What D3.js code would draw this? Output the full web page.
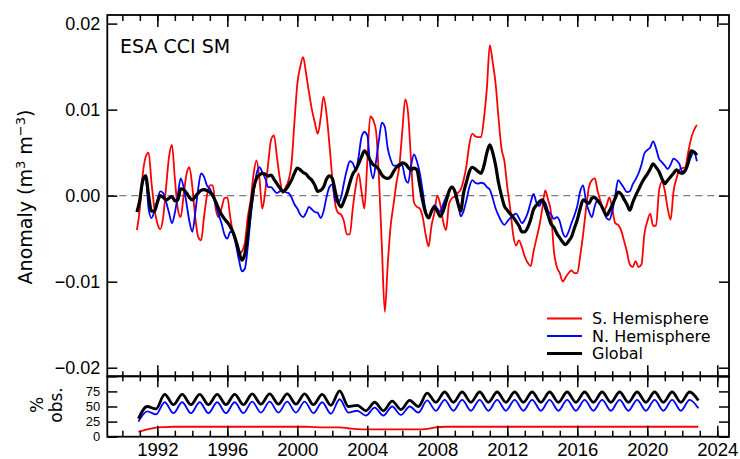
<!DOCTYPE html>
<html><head><meta charset="utf-8">
<script src="https://cdn.jsdelivr.net/npm/d3@7"></script>
<style>body{margin:0;background:#fff;} svg{display:block;font-family:"DejaVu Sans",sans-serif;}</style>
</head><body><svg id="c" width="740" height="459"></svg>
<script>
// ---------- DATA ----------
// Anomalies, 2-monthly samples starting late 1990, in units of 1e-3 m3 m-3
const anomStart = 1990 + 5/6, anomStep = 1/6, anomUnit = 1e-3;
const southHem = [ -4.0,
 -1.5, 2.5, 4.5, 5.0, 1.5, -1.5,
 -3.2, -3.9, -2.5, 1.0, 4.5, 5.9,
 2.0, -1.5, -2.5, 0.0, 2.5, 3.3,
 1.0, -2.5, -4.8, -5.2, -2.5, 0.0,
 1.2, 1.2, -1.5, -2.5, -1.5, -0.3,
 -0.2, -2.5, -4.5, -5.5, -6.8, -6.5,
 -5.5, -2.5, -0.5, 2.5, 4.1, 2.0,
 -1.5, 0.5, 3.7, 6.5, 7.0, 4.5,
 2.0, 0.3, 1.0, 1.8, 3.7, 8.5,
 13.0, 15.0, 16.1, 14.2, 12.0, 10.0,
 8.5, 7.2, 9.0, 11.5, 9.5, 6.0,
 2.0, -1.0, -2.0, -2.2, -3.0, -4.5,
 -4.5, -1.5, 1.0, 2.6, 0.5, -1.5,
 4.0, 9.2, 8.8, 7.5, 2.0, -6.0,
 -13.5, -8.0, -3.5, -1.0, 1.5, 3.5,
 7.5, 11.2, 9.5, 4.0, -0.8, -1.3,
 -1.5, -2.5, -4.5, -5.9, -3.5, -2.0,
 0.0, -1.0, -3.0, -4.0, -1.0, -0.3,
 -0.1, 0.3, 0.7, 1.8, 3.5, 6.0,
 7.2, 6.9, 6.8, 6.8, 9.0, 12.5,
 17.5, 15.5, 13.0, 9.0, 5.5, 4.0,
 1.0, -1.5, -4.5, -5.8, -5.2, -6.0,
 -7.1, -7.8, -8.2, -6.5, -5.0, -3.5,
 -1.5, 0.6, -0.5, -2.0, -6.5, -8.3,
 -9.0, -10.0, -9.5, -9.0, -8.7, -9.0,
 -9.0, -7.0, -4.5, -1.5, 1.0, 1.8,
 2.0, 0.5, -0.7, -1.8, -1.2, -0.2,
 -1.5, -3.2, -3.4, -4.0, -5.2, -6.5,
 -8.0, -8.3, -7.6, -8.3, -8.0, -4.5,
 -3.0, -2.1, -3.5, -3.5, 0.5, 1.6,
 0.6, -1.5, -2.8, 0.5, 2.0, 3.0,
 3.2, 3.3, 5.0, 6.6, 7.6, 8.2
];
const northHem = [ -1.9,
 -0.5, 1.5, 2.2, -1.5, -2.6, -1.8,
 -0.5, 0.5, 0.3, -0.7, -2.0, -3.2,
 -2.0, 0.0, 2.0, 1.0, -0.9, -3.0,
 -4.2, -2.0, 0.8, 2.6, 2.2, 1.2,
 0.8, 0.0, -1.0, -2.2, -3.2, -4.5,
 -5.0, -4.2, -4.3, -5.8, -7.5, -8.8,
 -8.5, -6.0, -2.5, 0.3, 2.5, 3.3,
 2.7, 2.0, 1.0, 1.0, 0.6, 0.3,
 0.5, 0.6, 0.4, 0.3, -0.2, -1.0,
 -1.5, -2.2, -2.5, -2.0, -1.3, -1.6,
 -1.9, -2.0, -2.6, -1.8, -0.2, 1.0,
 1.3, -0.5, -0.8, -0.2, 1.5, 3.0,
 4.0, 3.8, 3.0, 4.5, 6.8, 7.4,
 7.0, 3.5, 2.0, 4.0, 6.5, 8.5,
 8.0, 5.5, 4.2, 3.5, 3.5, 3.7,
 3.5, 2.0, 1.5, 3.5, 4.8, 4.0,
 2.6, 0.5, -1.8, -2.5, -2.0, -1.1,
 -1.5, -1.9, -1.0, -0.2, 0.5, 1.0,
 0.6, -0.5, -2.4, -1.8, -0.5, 1.0,
 1.8, 1.5, 1.4, 1.5, 1.4, 1.0,
 0.7, -0.3, -1.5, -2.3, -3.0, -3.4,
 -3.0, -2.6, -2.3, -2.1, -2.6, -3.2,
 -2.8, -2.0, -0.8, 0.2, -0.8, -1.2,
 -0.6, -0.8, -1.8, -2.2, -2.7, -2.5,
 -3.0, -4.3, -4.8, -4.2, -3.2, -2.3,
 -1.2, 0.5, 1.2, -0.7, -1.8, -2.5,
 -1.2, -0.5, -1.0, -1.7, -2.6, -2.8,
 -1.8, 0.0, 1.8, 1.4, 0.9, 0.4,
 0.5, 1.3, 1.9, 2.6, 3.6, 4.9,
 5.3, 5.6, 6.3, 5.5, 4.3, 3.9,
 3.5, 3.1, 3.6, 4.3, 4.1, 3.7,
 2.8, 3.0, 3.7, 4.5, 5.1, 4.0
];
const globalAnom = [ -1.9,
 -0.5, 1.8, 2.3, 0.0, -1.8, -1.8,
 -0.8, 0.0, -0.2, -0.5, -0.3, -0.1,
 -0.6, -0.5, 0.8, 0.7, 0.3, -0.2,
 -0.5, -0.1, 0.3, 0.6, 0.7, 0.6,
 0.4, 0.0, -0.7, -1.5, -2.2, -2.7,
 -3.1, -3.6, -4.3, -5.3, -6.5, -7.5,
 -6.8, -4.5, -1.5, 0.8, 2.0, 2.4,
 2.6, 2.5, 2.3, 2.4, 1.9, 1.4,
 0.9, 0.5, 0.7, 1.2, 1.8, 2.6,
 3.2, 3.0, 2.7, 2.5, 2.1, 1.8,
 1.2, 0.5, 0.6, 1.0, 1.9, 2.3,
 2.0, 0.5, -0.8, -1.3, -0.6, 0.3,
 1.5, 2.5, 3.0, 3.7, 4.5, 5.2,
 4.8, 4.1, 3.6, 3.4, 3.0, 2.4,
 2.1, 2.0, 2.2, 2.8, 3.3, 3.5,
 3.8, 3.7, 3.3, 3.0, 3.2, 3.0,
 1.2, -0.6, -2.0, -2.6, -1.8, -1.3,
 -1.8, -2.4, -1.8, -0.7, 0.5, 1.0,
 0.5, -0.8, -1.8, 0.3, 1.6, 2.8,
 3.3, 3.1, 2.8, 2.6, 3.5, 5.0,
 5.9, 5.0, 3.5, 1.5, 0.0, -1.2,
 -1.7, -2.1, -2.5, -3.0, -3.5, -4.2,
 -4.2, -3.7, -2.8, -1.6, -1.1, -0.7,
 -0.5, -1.3, -2.3, -3.3, -3.7, -4.4,
 -4.9, -5.4, -5.7, -5.3, -4.8, -3.8,
 -2.8, -1.5, -0.5, -0.7, -0.9, -0.3,
 -0.2, -0.6, -1.0, -1.7, -2.3, -1.8,
 -1.1, -0.3, 0.4, 0.2, -0.4, -1.0,
 -1.7, -0.8, 0.0, 0.7, 1.4, 2.0,
 2.5, 3.1, 3.7, 3.3, 2.8, 2.0,
 1.4, 1.8, 2.2, 2.6, 3.0, 2.7,
 2.6, 2.9, 3.8, 5.2, 5.1, 4.7
];
// % observations: half-yearly extremes starting 1990.92
const pctStart = 1990.92, pctStep = 0.5;
const southPct = [8,12,15,16,16.5,16.5,16.5,16.5,16.5,16.5,16.5,16.5,16.5,16.5,16.5,16.5,16.5,16.5,16.5,16.5,16,15.5,15.5,15.5,14,12.5,12,12,12,12,12,12,12,13,15.5,16.5,16.5,16.5,16.5,16.5,16.5,16.5,16.5,16.5,16.5,16.5,16.5,16.5,16.5,16.5,16.5,16.5,16.5,16.5,16.5,16.5,16.5,16.5,16.5,16.5,16.5,16.5,16.5,16.5,16.5];
const northPct = [25,42,37,57,39,57,39,57,39,57,39,57,39,58,40,58,40,58,40,58,39,57,38,62,40,43,35,48,35,50,36,50,40,60,43,61,43,61,43,61,43,61,43,61,43,61,43,61,43,61,43,61,43,61,43,61,43,61,43,61,43,61,43,61,47];
const globalPct = [30,50,46,70,53,70,53,70,53,70,53,70,53,71,54,71,54,71,54,71,53,70,52,76,50,52,43,57,43,59,45,60,50,72,57,74,57,74,57,74,57,74,57,74,57,74,57,74,57,74,57,74,57,74,57,74,57,74,57,74,57,74,57,74,60];

const anomTicks = [-0.02, -0.01, 0, 0.01, 0.02];
const pctTicks = [0, 25, 50, 75];
const yearTicks = [1992, 1996, 2000, 2004, 2008, 2012, 2016, 2020, 2024];
const seriesNames = ["S. Hemisphere", "N. Hemisphere", "Global"];
const seriesColors = ["#ff0000", "#0000ff", "#000000"];
const seriesWidths = [1.8, 1.8, 3.2];

// ---------- LAYOUT ----------
const L = 107.3, R = 729, T = 15, B1 = 376.3, B2 = 436.7;
const svg = d3.select("#c");
const x = d3.scaleLinear().domain([1989.14, 2024.67]).range([L, R]);
const yA = d3.scaleLinear().domain([-0.021, 0.021]).range([B1, T]);
const yP = d3.scaleLinear().domain([0, 100]).range([B2, B1]);
const minorYears = d3.range(1990, 2025);

const anomSeries = [southHem, northHem, globalAnom].map(arr =>
  arr.map((v, i) => ({t: anomStart + i * anomStep, v: v * anomUnit})));
const pctSeries = [southPct, northPct, globalPct].map(arr =>
  arr.map((v, i) => ({t: pctStart + i * pctStep, v})));

// zero line
svg.append("line").attr("x1", L).attr("x2", R).attr("y1", yA(0)).attr("y2", yA(0))
  .attr("stroke", "#7a7a7a").attr("stroke-width", 1.3).attr("stroke-dasharray", "7,5");

const lineA = d3.line().x(d => x(d.t)).y(d => yA(d.v)).curve(d3.curveMonotoneX);
const lineP = d3.line().x(d => x(d.t)).y(d => yP(d.v)).curve(d3.curveMonotoneX);

anomSeries.forEach((s, k) => {
  svg.append("path").datum(s).attr("d", lineA).attr("fill", "none")
    .attr("stroke", seriesColors[k]).attr("stroke-width", seriesWidths[k]).attr("stroke-linejoin", "round");
});
pctSeries.forEach((s, k) => {
  svg.append("path").datum(s).attr("d", lineP).attr("fill", "none")
    .attr("stroke", seriesColors[k]).attr("stroke-width", k === 2 ? 2.8 : 1.8).attr("stroke-linejoin", "round");
});

// axes helper
function ax(gen, tx, ty, size, values, fmt, pad) {
  const g = svg.append("g").attr("transform", `translate(${tx},${ty})`)
    .call(gen.tickValues(values).tickSize(size).tickPadding(pad || 3).tickFormat(fmt || (() => "")));
  g.select(".domain").remove();
  g.selectAll(".tick line").attr("stroke", "#000").attr("stroke-width", 1.5);
  return g;
}
const fmtA = d => d3.format(".2f")(d).replace("-", "\u2212");
// top panel
ax(d3.axisLeft(yA), L, 0, -10, anomTicks, fmtA, 7).selectAll("text").attr("font-size", 18).attr("fill", "#000");
ax(d3.axisRight(yA), R, 0, -10, anomTicks);
ax(d3.axisTop(x), 0, T, -12, yearTicks);
ax(d3.axisTop(x), 0, T, -6, minorYears);
ax(d3.axisBottom(x), 0, B1, -11, yearTicks);
ax(d3.axisBottom(x), 0, B1, -5, minorYears);
// bottom panel
ax(d3.axisTop(x), 0, B1, -11, yearTicks);
ax(d3.axisTop(x), 0, B1, -5, minorYears);
ax(d3.axisBottom(x), 0, B2, -11, yearTicks, d => d, 6).selectAll("text").attr("font-size", 18.5).attr("fill", "#000");
ax(d3.axisBottom(x), 0, B2, -6, minorYears);
ax(d3.axisLeft(yP), L, 0, -10, pctTicks, d => d, 7).selectAll("text").attr("font-size", 13).attr("fill", "#000");
ax(d3.axisLeft(yP), L, 0, -10, [100]);
ax(d3.axisRight(yP), R, 0, -10, [0, 25, 50, 75, 100]);

// frames
svg.append("rect").attr("x", L).attr("y", T).attr("width", R - L).attr("height", B1 - T)
  .attr("fill", "none").attr("stroke", "#000").attr("stroke-width", 1.8);
svg.append("rect").attr("x", L).attr("y", B1).attr("width", R - L).attr("height", B2 - B1)
  .attr("fill", "none").attr("stroke", "#000").attr("stroke-width", 1.8);

// texts
svg.append("text").attr("x", 120).attr("y", 53).attr("font-size", 19).text("ESA CCI SM");

const yl = svg.append("text").attr("transform", "translate(32,197) rotate(-90)")
  .attr("text-anchor", "middle").attr("font-size", 19);
yl.append("tspan").text("Anomaly (m");
yl.append("tspan").attr("font-size", 13).attr("dy", -7).text("3");
yl.append("tspan").attr("dy", 7).text(" m");
yl.append("tspan").attr("font-size", 13).attr("dy", -7).text("\u22123");
yl.append("tspan").attr("dy", 7).text(")");

svg.append("text").attr("transform", "translate(43,405) rotate(-90)")
  .attr("text-anchor", "middle").attr("font-size", 17).text("%");
svg.append("text").attr("transform", "translate(62,405) rotate(-90)")
  .attr("text-anchor", "middle").attr("font-size", 17).text("obs.");

// legend
const lg = svg.append("g");
seriesNames.forEach((n, k) => {
  const yy = 318.5 + k * 17.5;
  lg.append("line").attr("x1", 547).attr("x2", 582).attr("y1", yy).attr("y2", yy)
    .attr("stroke", seriesColors[k]).attr("stroke-width", k === 2 ? 3.2 : 2);
  lg.append("text").attr("x", 592).attr("y", yy + 5.5).attr("font-size", 16).text(n);
});
</script>
</body></html>
